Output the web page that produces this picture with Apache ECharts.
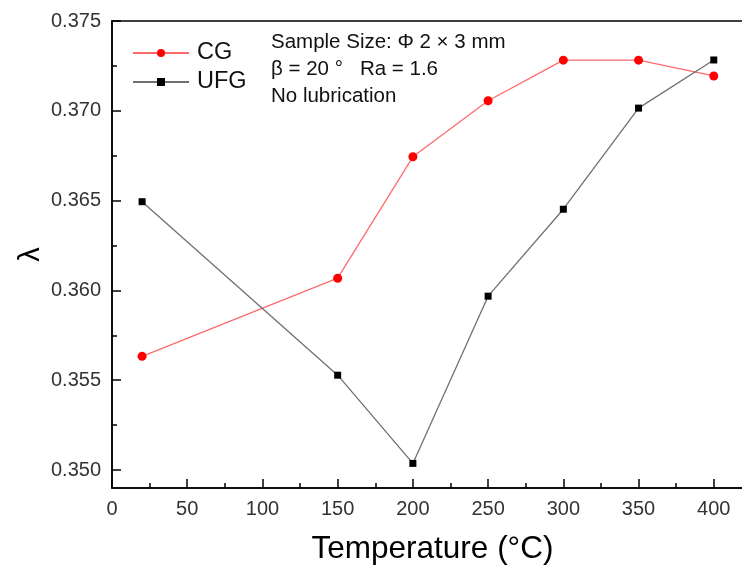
<!DOCTYPE html>
<html>
<head>
<meta charset="utf-8">
<script src="https://cdn.jsdelivr.net/npm/echarts@6/dist/echarts.min.js"></script>
<style>html,body{margin:0;padding:0;background:#fff}#c{width:742px;height:568px}</style>
</head>
<body>
<div id="c"></div>
<script>
const temperatures = [20, 150, 200, 250, 300, 350, 400];
const cgValues  = [0.35633, 0.36068, 0.36744, 0.37056, 0.37282, 0.37282, 0.37194];
const ufgValues = [0.36494, 0.35528, 0.35037, 0.35968, 0.36452, 0.37015, 0.37283];
const yTickValues = [0.350, 0.355, 0.360, 0.365, 0.370, 0.375];
const yMinorTickValues = [0.3525, 0.3575, 0.3625, 0.3675, 0.3725];
const annotationLines = ['Sample Size: \u03A6 2 \u00D7 3 mm', '\u03B2 = 20 \u00B0   Ra = 1.6', 'No lubrication'];

const FONT = '"Liberation Sans", Arial, sans-serif';
const chart = echarts.init(document.getElementById('c'), null, {renderer: 'canvas'});
const pair = (xs, ys) => xs.map((x, i) => [x, ys[i]]);

chart.setOption({
  animation: false,
  backgroundColor: '#fff',
  grid: {left: 112, top: 21, bottom: 80, right: -47, show: true, borderColor: '#000', borderWidth: 1.5,
    containLabel: false, outerBoundsMode: 'none'},
  legend: {
    orient: 'vertical', left: 132, top: 41, padding: 0, itemWidth: 56, itemHeight: 10, itemGap: 5,
    textStyle: {fontFamily: FONT, fontSize: 23.5, color: '#111', padding: [0, 0, 0, 3]},
    data: ['CG', 'UFG']
  },
  xAxis: {
    type: 'value', min: 0, max: 450, interval: 50,
    name: 'Temperature (\u00B0C)', nameLocation: 'middle', nameGap: 45,
    nameTextStyle: {fontFamily: FONT, fontSize: 31.5, color: '#000', padding: [0, 36, 0, 0]},
    axisLine: {show: true, onZero: false, lineStyle: {color: '#000', width: 1.5}},
    axisTick: {show: true, inside: true, length: 9, lineStyle: {color: '#000', width: 1.5}},
    minorTick: {show: true, splitNumber: 2, length: 5, lineStyle: {color: '#000', width: 1.5}},
    axisLabel: {fontFamily: FONT, fontSize: 20, color: '#333', margin: 11, showMaxLabel: false},
    splitLine: {show: false}
  },
  yAxis: [{
    type: 'value', min: 0.349, max: 0.375,
    name: '\u03BB', nameLocation: 'middle', nameGap: 81, nameRotate: 90, nameMoveOverlap: false,
    nameTextStyle: {fontFamily: FONT, fontSize: 29, color: '#000', verticalAlign: 'middle'},
    axisLine: {show: true, onZero: false, lineStyle: {color: '#000', width: 1.5}},
    axisTick: {show: true, inside: true, length: 9, customValues: yTickValues, lineStyle: {color: '#000', width: 1.5}},
    axisLabel: {fontFamily: FONT, fontSize: 20, color: '#333', margin: 11, customValues: yTickValues,
      formatter: v => v.toFixed(3)},
    splitLine: {show: false}
  }, {
    type: 'value', min: 0.349, max: 0.375, position: 'left',
    axisLine: {show: false},
    axisTick: {show: true, inside: true, length: 5, customValues: yMinorTickValues, lineStyle: {color: '#000', width: 1.5}},
    axisLabel: {show: false},
    splitLine: {show: false}
  }],
  graphic: annotationLines.map((t, i) => ({
    type: 'text', left: 271, top: 32 + i * 27,
    style: {text: t, font: '20.5px ' + FONT, fill: '#111'}
  })),
  series: [{
    name: 'CG', type: 'line', data: pair(temperatures, cgValues),
    symbol: 'circle', symbolSize: 9,
    itemStyle: {color: '#ff0000'},
    lineStyle: {color: '#ff6b6b', width: 1.3}
  }, {
    name: 'UFG', type: 'line', data: pair(temperatures, ufgValues),
    symbol: 'rect', symbolSize: 7,
    itemStyle: {color: '#000000'},
    lineStyle: {color: '#707070', width: 1.3}
  }]
});
</script>
</body>
</html>
